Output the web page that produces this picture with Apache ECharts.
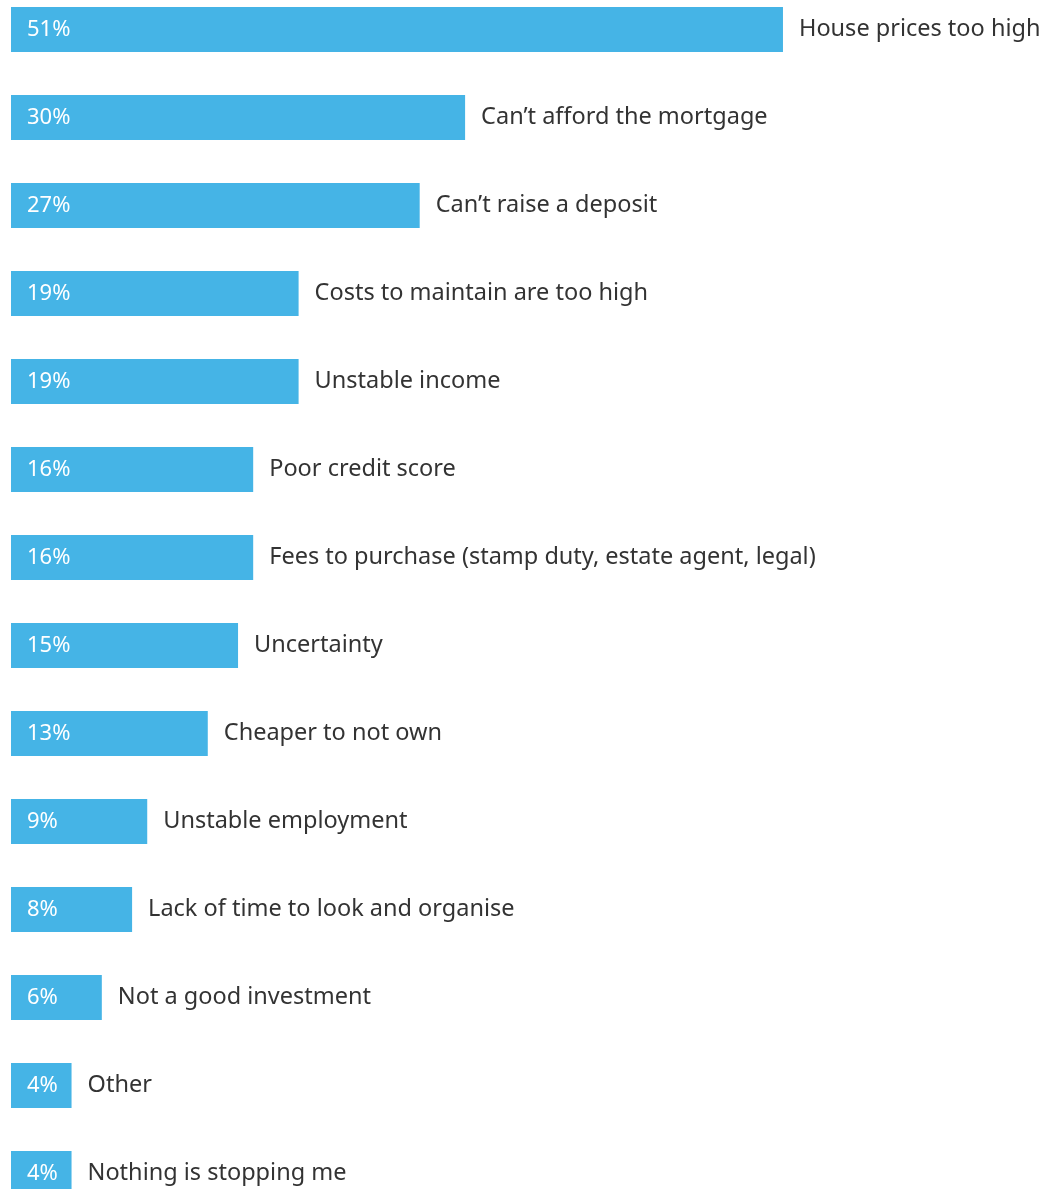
<!DOCTYPE html>
<html>
<head>
<meta charset="utf-8">
<script src="https://cdn.jsdelivr.net/npm/echarts@6/dist/echarts.min.js"></script>
<style>
  html, body { margin: 0; padding: 0; background: #ffffff; }
  #chart { width: 1045px; height: 1189px; }
</style>
</head>
<body>
<div id="chart"></div>
<script>
// Reasons stopping people from buying a home (share of respondents, %)
const categories = [
  'House prices too high',
  'Can\u2019t afford the mortgage',
  'Can\u2019t raise a deposit',
  'Costs to maintain are too high',
  'Unstable income',
  'Poor credit score',
  'Fees to purchase (stamp duty, estate agent, legal)',
  'Uncertainty',
  'Cheaper to not own',
  'Unstable employment',
  'Lack of time to look and organise',
  'Not a good investment',
  'Other',
  'Nothing is stopping me'
];
const values = [51, 30, 27, 19, 19, 16, 16, 15, 13, 9, 8, 6, 4, 4];

const chart = echarts.init(document.getElementById('chart'));
const fontFamily = '"Noto Sans", "DejaVu Sans", sans-serif';

chart.setOption({
  animation: false,
  grid: {
    left: 11, top: -14.5, width: 908.2, height: 1232,
    containLabel: false,
    outerBoundsMode: 'none'
  },
  xAxis: {
    type: 'value', min: 0, max: 60,
    show: false
  },
  yAxis: {
    type: 'category', data: categories, inverse: true,
    show: false
  },
  series: [
    {
      type: 'bar',
      data: values,
      barWidth: 45,
      itemStyle: { color: '#45b4e6' },
      label: {
        show: true,
        position: 'insideLeft',
        distance: 16,
        color: '#ffffff',
        fontSize: 22,
        fontFamily: fontFamily,
        formatter: p => p.value + '%'
      }
    },
    {
      // invisible twin bars that carry the category names past each bar end
      type: 'bar',
      data: values,
      barWidth: 45,
      barGap: '-100%',
      itemStyle: { color: 'rgba(0,0,0,0)' },
      label: {
        show: true,
        position: 'right',
        distance: 16,
        color: '#333333',
        fontSize: 23.5,
        fontFamily: fontFamily,
        formatter: p => p.name
      }
    }
  ]
});
</script>
</body>
</html>
